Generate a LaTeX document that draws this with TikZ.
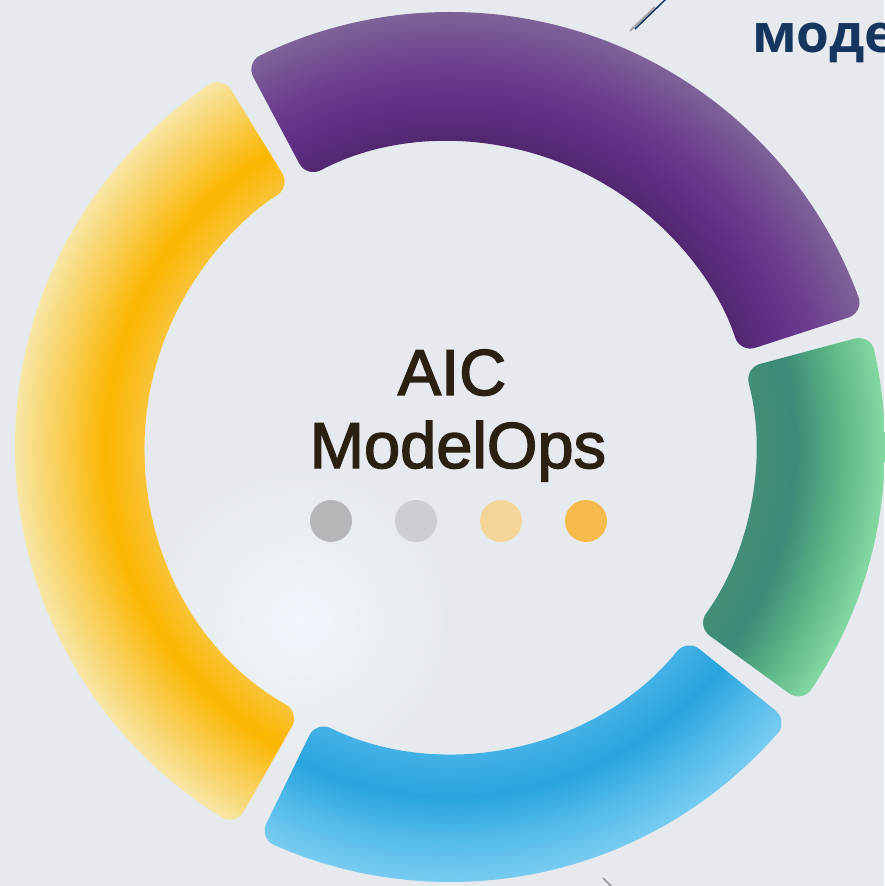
\documentclass[tikz,border=0pt]{standalone}
\usepackage{fontspec}
\setmainfont{Liberation Sans}
\newfontfamily\titlefont{Liberation Sans}[BoldFont={Liberation Sans}, BoldFeatures={FakeBold=2.2}]
\newfontfamily\headfont{Open Sans}
\usetikzlibrary{positioning}

\definecolor{bgcol}{HTML}{E6EAEE}
\definecolor{glowcol}{HTML}{F0F6FB}
\definecolor{inkcol}{HTML}{2B2112}
\definecolor{navycol}{HTML}{17365F}
% purple band
\definecolor{purpA}{HTML}{50286E}
\definecolor{purpB}{HTML}{5E2E84}
\definecolor{purpC}{HTML}{6C3D8E}
\definecolor{purpD}{HTML}{7D6398}
% green band
\definecolor{grnA}{HTML}{438E78}
\definecolor{grnB}{HTML}{3C8A78}
\definecolor{grnC}{HTML}{5BB585}
\definecolor{grnD}{HTML}{84D8A2}
% blue band
\definecolor{bluA}{HTML}{45B2E6}
\definecolor{bluB}{HTML}{28A4DE}
\definecolor{bluC}{HTML}{55BCEA}
\definecolor{bluD}{HTML}{78CBF0}
% yellow band
\definecolor{yelA}{HTML}{F9C43A}
\definecolor{yelB}{HTML}{FBB600}
\definecolor{yelC}{HTML}{F9CE55}
\definecolor{yelD}{HTML}{F7E6A5}
% dots
\definecolor{dotA}{HTML}{B5B6BA}
\definecolor{dotB}{HTML}{CBCED3}
\definecolor{dotC}{HTML}{F3D697}
\definecolor{dotD}{HTML}{F7BA4C}

% ring shadings, 25bp = outer radius 435pt, inner radius 305pt = 17.5bp
\pgfdeclareradialshading{purplering}{\pgfpoint{0bp}{0bp}}{color(0bp)=(purpA); color(17.5bp)=(purpA); color(19.5bp)=(purpB); color(21.8bp)=(purpC); color(25bp)=(purpD); color(50bp)=(purpD)}
\pgfdeclareradialshading{greenring}{\pgfpoint{0bp}{0bp}}{color(0bp)=(grnA); color(17.5bp)=(grnA); color(19.8bp)=(grnB); color(22.4bp)=(grnC); color(25bp)=(grnD); color(50bp)=(grnD)}
\pgfdeclareradialshading{bluering}{\pgfpoint{0bp}{0bp}}{color(0bp)=(bluA); color(17.5bp)=(bluA); color(20.1bp)=(bluB); color(22.7bp)=(bluC); color(25bp)=(bluD); color(50bp)=(bluD)}
\pgfdeclareradialshading{yellowring}{\pgfpoint{0bp}{0bp}}{color(0bp)=(yelA); color(17.5bp)=(yelA); color(19.8bp)=(yelB); color(22.4bp)=(yelC); color(25bp)=(yelD); color(50bp)=(yelD)}

\begin{document}
\begin{tikzpicture}[x=1pt, y=1pt, node distance={85pt},
    seg/.style = {rounded corners=16pt},
    title/.style = {anchor=base, text=inkcol, font=\titlefont\bfseries\fontsize{65}{72}\selectfont},
    dot/.style = {circle, minimum size=42pt, inner sep=0pt}]
    \useasboundingbox (-450,-439) rectangle (434,447);
    \fill[bgcol] (-450,-439) rectangle (434,447);
    \shade[inner color=glowcol, outer color=bgcol] (-150,-173) circle (150pt);

    % purple
    \begin{scope}
        \clip[seg] (18:435pt) arc[start angle=18, end angle=118, radius=435pt] -- (118:305pt) arc[start angle=118, end angle=18, radius=305pt] -- cycle;
        \shade[shading=purplering] (0,0) circle (435pt);
    \end{scope}
    % green
    \begin{scope}
        \clip[seg] (-36:435pt) arc[start angle=-36, end angle=15, radius=435pt] -- (15:305pt) arc[start angle=15, end angle=-36, radius=305pt] -- cycle;
        \shade[shading=greenring] (0,0) circle (435pt);
    \end{scope}
    % blue
    \begin{scope}
        \clip[seg] (-116:435pt) arc[start angle=-116, end angle=-39, radius=435pt] -- (-39:305pt) arc[start angle=-39, end angle=-116, radius=305pt] -- cycle;
        \shade[shading=bluering] (0,0) circle (435pt);
    \end{scope}
    % yellow
    \begin{scope}
        \clip[seg] (121.5:435pt) arc[start angle=121.5, end angle=240.5, radius=435pt] -- (240.5:305pt) arc[start angle=240.5, end angle=121.5, radius=305pt] -- cycle;
        \shade[shading=yellowring] (0,0) circle (435pt);
    \end{scope}

    \node[title] (aic) at (2,52) {AIC};
    \node[title] (modelops) at (8,-21) {ModelOps};

    \node[dot, fill=dotA] (dot1) at (-119,-74) {};
    \node[dot, fill=dotB] (dot2) [right of=dot1] {};
    \node[dot, fill=dotC] (dot3) [right of=dot2] {};
    \node[dot, fill=dotD] (dot4) [right of=dot3] {};

    % cut-off heading and strokes at the edges
    \node[anchor=base west, inner sep=0pt, text=navycol, font=\headfont\bfseries\fontsize{53}{60}\selectfont] (heading) at (302,394) {моде};
    \draw[gray!70, line width=2pt] (180,416) -- (205,440);
    \draw[navycol, line width=1.5pt] (185,418) -- (216,448);
    \draw[gray!80, line width=1.5pt] (153,-431) -- (162,-440);
\end{tikzpicture}
\end{document}
